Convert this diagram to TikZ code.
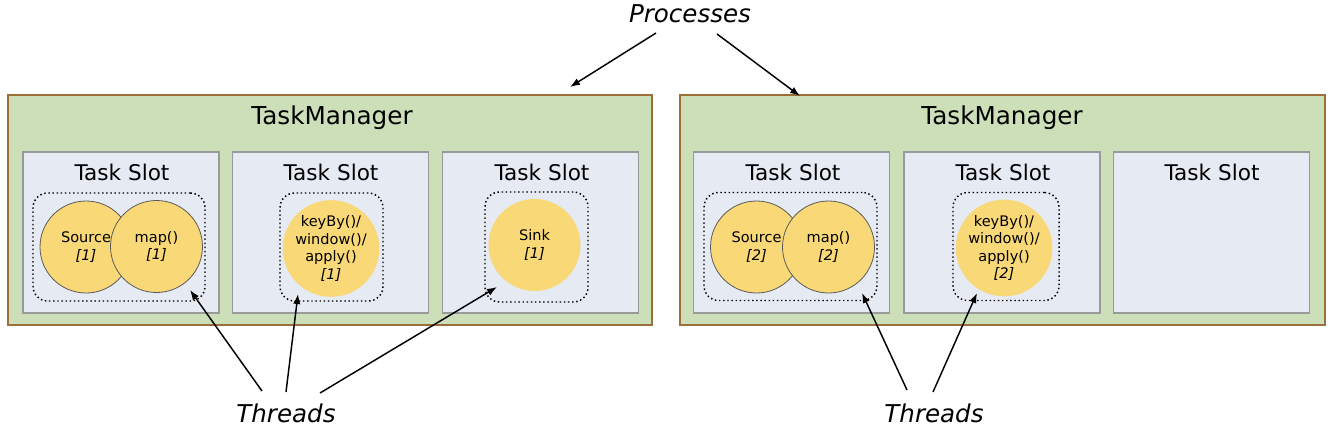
\documentclass[tikz,border=0pt]{standalone}
\usepackage{fontspec}
\setmainfont{DejaVu Sans}
\usetikzlibrary{arrows.meta}
\definecolor{tmfill}{HTML}{CCDFB8}
\definecolor{tmdraw}{HTML}{9A6F3A}
\definecolor{slotfill}{HTML}{E6EAF3}
\definecolor{slotdraw}{HTML}{9A9A9A}
\definecolor{opfill}{HTML}{F9D878}
\definecolor{opdraw}{HTML}{5A5A5A}
\tikzset{
  tmbox/.style={draw=tmdraw, fill=tmfill, line width=1.5pt, minimum width=483pt, minimum height=172.5pt, inner sep=0pt},
  slotbox/.style={draw=slotdraw, fill=slotfill, line width=1.4pt, minimum width=147pt, minimum height=120.75pt, inner sep=0pt},
  grp/.style={draw=black, line width=1.1pt, dotted, rounded corners=11pt, minimum height=81pt, inner sep=0pt},
  op/.style={circle, fill=opfill, minimum size=69pt, inner sep=0pt, align=center, font=\fontsize{10.9pt}{13.2pt}\selectfont},
  opb/.style={op, draw=opdraw, line width=0.6pt},
  tmtitle/.style={font=\fontsize{18.5pt}{22pt}\selectfont},
  slottitle/.style={font=\fontsize{16.2pt}{19pt}\selectfont},
  lbl/.style={font=\fontsize{18.4pt}{22pt}\selectfont\itshape},
  arr/.style={-{Latex[length=7.5pt,width=5.5pt]}, line width=1.1pt},
}
\begin{document}
\begin{tikzpicture}[x=0.75pt,y=-0.75pt]
\useasboundingbox (0,0) rectangle (1330,432);
% TaskManagers
\node[tmbox] (tm1) at (330,210) {};
\node[tmbox, minimum width=483.75pt] (tm2) at (1002.5,210) {};
\node[tmtitle] (tmt1) at (332,118) {TaskManager};
\node[tmtitle] (tmt2) at (1002,118) {TaskManager};
% slots
\node[slotbox] (s1) at (121,232.5) {};
\node[slotbox] (s2) at (330.5,232.5) {};
\node[slotbox] (s3) at (540.5,232.5) {};
\node[slotbox] (s4) at (791.5,232.5) {};
\node[slotbox] (s5) at (1002,232.5) {};
\node[slotbox] (s6) at (1211.5,232.5) {};
\foreach \s/\x in {s1/122,s2/331,s3/542,s4/793,s5/1003,s6/1212}
  \node[slottitle] (\s t) at (\x,172) {Task Slot};
% groups
\node[grp, minimum width=129pt] (g1) at (119,247) {};
\node[grp, minimum width=77.25pt] (g2) at (331.5,247) {};
\node[grp, minimum width=77.25pt, minimum height=82.5pt] (g3) at (536.5,247) {};
\node[grp, minimum width=129.75pt] (g4) at (790.5,246.5) {};
\node[grp, minimum width=79.5pt] (g5) at (1006,246.5) {};
% operators
\node[opb] (src1) at (86,247) {Source\\\textit{[1]}};
\node[opb] (map1) at (156.5,246.5) {map()\\\textit{[1]}};
\node[op] (key1) at (331,248.5) {keyBy()/\\window()/\\apply()\\\textit{[1]}};
\node[op] (sink1) at (534.5,245) {Sink\\\textit{[1]}};
\node[opb] (src2) at (756.5,247) {Source\\\textit{[2]}};
\node[opb] (map2) at (828.5,247) {map()\\\textit{[2]}};
\node[op] (key2) at (1004,248) {keyBy()/\\window()/\\apply()\\\textit{[2]}};
% labels
\node[lbl] (proc) at (690,14) {Processes};
\node[lbl] (th1) at (286,413) {Threads};
\node[lbl] (th2) at (934,413) {Threads};
% arrow coordinates
\coordinate (p1s) at (656,33);
\coordinate (p1e) at (570,87);
\coordinate (p2s) at (717,34);
\coordinate (p2e) at (800,96);
\coordinate (a1s) at (262,391);
\coordinate (a1e) at (190,290);
\coordinate (a2s) at (286,392);
\coordinate (a2e) at (298,294);
\coordinate (a3s) at (320,393);
\coordinate (a3e) at (497,287);
\coordinate (b1s) at (907,390);
\coordinate (b1e) at (862,293);
\coordinate (b2s) at (933,392);
\coordinate (b2e) at (977,293);
\draw[arr] (p1s) -- (p1e);
\draw[arr] (p2s) -- (p2e);
\draw[arr] (a1s) -- (a1e);
\draw[arr] (a2s) -- (a2e);
\draw[arr] (a3s) -- (a3e);
\draw[arr] (b1s) -- (b1e);
\draw[arr] (b2s) -- (b2e);
\end{tikzpicture}
\end{document}
